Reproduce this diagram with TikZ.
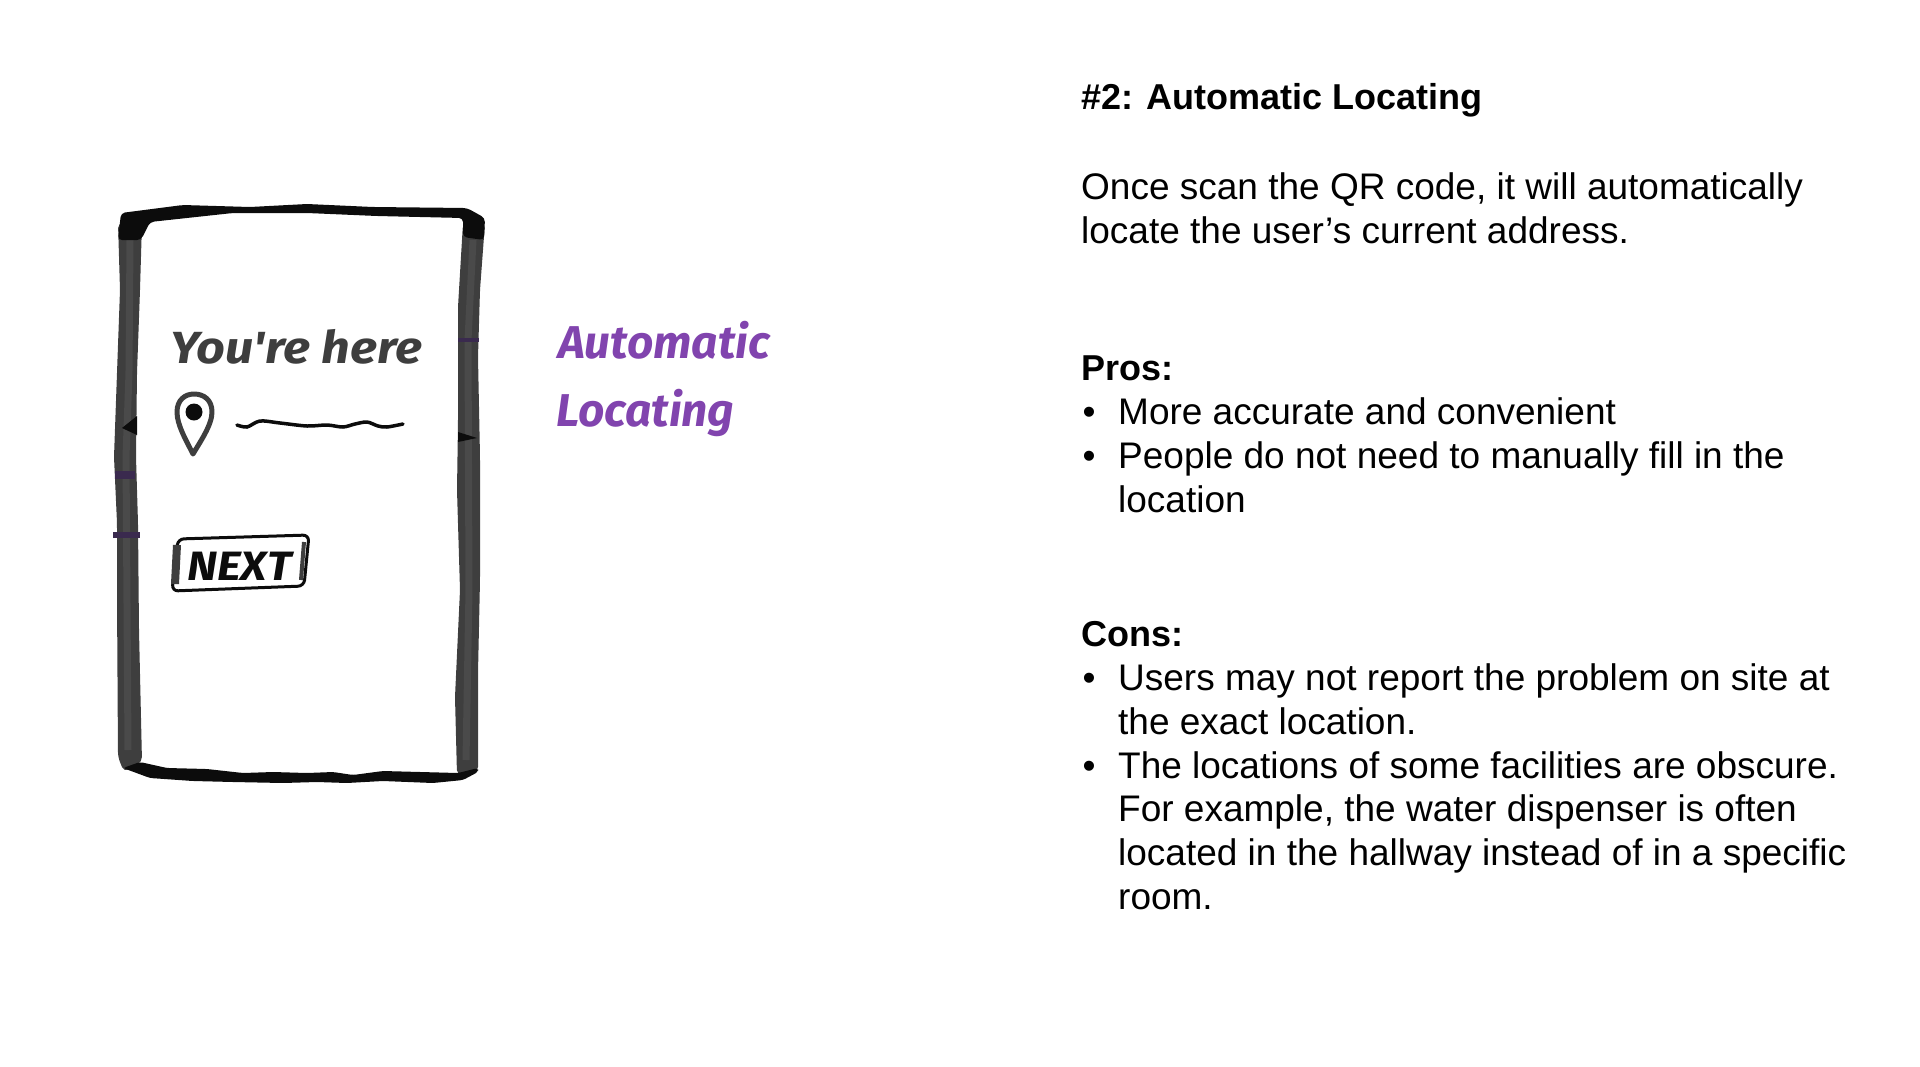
\documentclass[tikz,border=0pt]{standalone}
\usepackage{fontspec}
\setmainfont{Liberation Sans}
\newfontfamily\handfont[FakeStretch=1.12]{Fira Sans}
\newfontfamily\notefont{Fira Sans}
\definecolor{brushgray}{HTML}{3E3E3E}
\definecolor{brushlight}{HTML}{4A4A4A}
\definecolor{brushdark}{HTML}{0C0C0C}
\definecolor{brushmark}{HTML}{3A2A4E}
\definecolor{brushpurple}{HTML}{8144AE}
\tikzset{
  bodyline/.style={anchor=base west,inner sep=0pt,font=\fontsize{37}{44}\selectfont},
  headline/.style={bodyline,font=\fontsize{36}{44}\selectfont\bfseries},
  handline/.style={anchor=base west,inner sep=0pt,font=\fontsize{#1}{#1}\handfont\bfseries\itshape},
  noteline/.style={anchor=base west,inner sep=0pt,font=\fontsize{46}{46}\notefont\bfseries\itshape,text=brushpurple},
  band/.style={fill=brushgray,draw=none,rounded corners=5pt},
  darkband/.style={fill=brushdark,draw=none},
  strip/.style={fill=brushmark,draw=none}
}
\begin{document}
\begin{tikzpicture}[x=1pt,y=-1pt]
\useasboundingbox (0,0) rectangle (1920,1066);
% phone outline
\fill [band] (118,223) -- (120,290) -- (117,373) -- (114,457) -- (117,523) -- (117,597)
  -- (118,757) -- (124,772) -- (142,762) -- (139,630) -- (138,523) -- (136,457)
  -- (137,373) -- (140,290) -- (142,223) -- cycle;
\fill [band] (485,223) -- (480,290) -- (478,357) -- (480,457) -- (480,580) -- (478,673)
  -- (478,772) -- (457,775) -- (455,697) -- (460,590) -- (457,490) -- (458,423)
  -- (458,307) -- (463,223) -- cycle;
\draw [brushlight, line width=7pt, rounded corners=5pt] (130,240) -- (129,373) -- (126,457) -- (128,750);
\draw [brushlight, line width=7pt, rounded corners=5pt] (473,240) -- (468,340) -- (469,590) -- (466,760);
\fill [darkband, rounded corners=4pt] (121,213) -- (183,205) -- (250,207) -- (307,204) -- (373,207)
  -- (467,208) -- (485,218) -- (484,240) -- (463,237) -- (463,218) -- (377,216) -- (307,213)
  -- (233,213) -- (150,222) -- (141,240) -- (118,240) -- cycle;
\fill [darkband, rounded corners=3pt] (123,768) -- (140,762) -- (167,768) -- (207,769) -- (243,773)
  -- (273,772) -- (307,773) -- (333,772) -- (353,775) -- (383,771) -- (458,773) -- (478,768)
  -- (478,772) -- (463,780) -- (433,783) -- (383,781) -- (347,783) -- (317,782) -- (283,783)
  -- (233,782) -- (193,781) -- (150,778) -- cycle;
% marks on the outline
\fill [strip] (115,471) rectangle (135,479);
\fill [strip] (113,532) rectangle (140,538);
\fill [strip] (458,338) rectangle (479,342);
\fill [darkband] (122,428) -- (137,416) -- (137,435) -- cycle;
\fill [darkband] (458,432) -- (477,438) -- (458,442) -- cycle;
% screen
\node [handline=45,text=brushgray] (herelabel) at (170,363) {You're here};
\draw [brushgray, line width=5pt, line join=round] (193,454) .. controls (186,440) and (177,425) .. (177,412)
  .. controls (177,400) and (185,394) .. (194,394) .. controls (204,394) and (212,400) .. (212,412)
  .. controls (212,425) and (200,442) .. (193,454) -- cycle;
\fill [brushdark] (194,412) circle (8.5);
\draw [brushdark, line width=3.5pt, line cap=round] plot [smooth] coordinates {(237,425) (247,427) (260,421)
  (280,423) (307,426) (327,425) (343,427) (355,424) (367,422) (378,426) (387,427) (403,424)};
\draw [brushdark, line width=3pt, rounded corners=6pt] (178,539) -- (309,535) -- (304,586) -- (172,591) -- cycle;
\draw [brushgray, line width=8pt] (177,545) -- (175,584);
\draw [brushgray, line width=4pt] (304,542) -- (301,580);
\node [handline=41,text=brushdark] (nextlabel) at (187,580) {NEXT};
% side note
\node [noteline] (notefirst) at (558,358) {Automatic};
\node [noteline] (notesecond) at (556,426) {Locating};
% text column
\node [headline] (title) at (1081,109) {\#2: Automatic Locating};
\node [headline] (pros) at (1081,380) {Pros:};
\node [headline] (cons) at (1081,646) {Cons:};
\foreach \n/\x/\y/\t in {a/1081/199/{Once scan the QR code, it will automatically},
    b/1081/243/{locate the user’s current address.},
    c/1118/424/{More accurate and convenient},
    d/1118/468/{People do not need to manually fill in the},
    e/1118/512/{location},
    f/1118/690/{Users may not report the problem on site at},
    g/1118/734/{the exact location.},
    h/1118/778/{The locations of some facilities are obscure.},
    i/1118/821/{For example, the water dispenser is often},
    j/1118/865/{located in the hallway instead of in a specific},
    k/1118/909/{room.}} {
  \node [bodyline] (line\n) at (\x,\y) {\t};
}
\foreach \y in {424,468,690,778} {
  \node [bodyline,anchor=base] (dot\y) at (1089,\y) {•};
}
\end{tikzpicture}
\end{document}
